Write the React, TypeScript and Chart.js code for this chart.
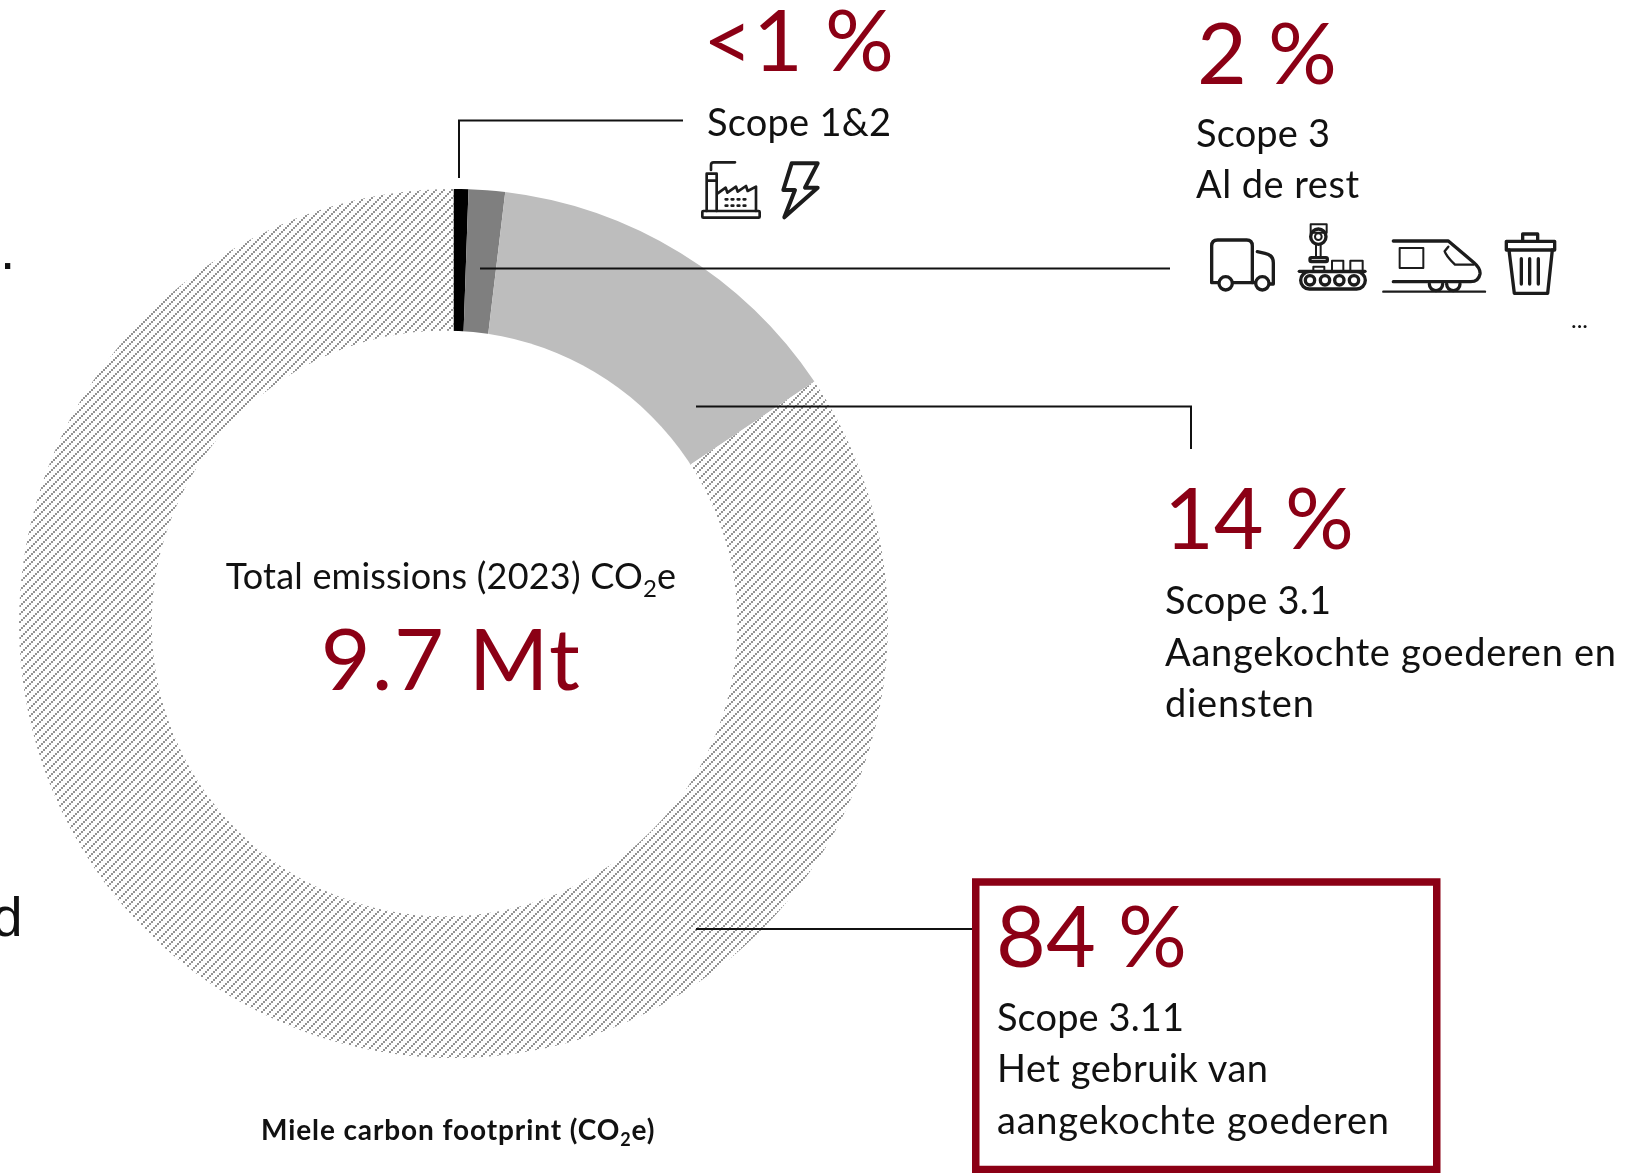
import React, { useEffect, useRef } from "react";
import { Chart, registerables } from "chart.js";

Chart.register(...registerables);

const categories = ["Scope 1&2", "Scope 3 Al de rest", "Scope 3.1", "Scope 3.11"];
const shareValues = [0.55, 1.35, 13.7, 84.4];
const sliceColors = ["#000000", "#7f7f7f", "#bdbdbd"];

const RED = "#8b0015";
const FONT = "Lato, Carlito, sans-serif";

// text, x, baseline, rendered width
const bigLabels: [string, number, number, number][] = [
  ["<1 %", 703, 71, 191],
  ["2 %", 1197, 84, 140],
  ["14 %", 1164, 549, 190],
  ["84 %", 996, 967, 191],
];
const smallLabels: [string, number, number, number][] = [
  ["Scope 1&2", 707, 136, 184],
  ["Scope 3", 1196, 147, 134],
  ["Al de rest", 1196, 198, 163],
  ["Scope 3.1", 1165, 614, 166],
  ["Aangekochte goederen en", 1165, 666, 451],
  ["diensten", 1165, 717, 149],
  ["Scope 3.11", 997, 1031, 187],
  ["Het gebruik van", 997, 1082, 271],
  ["aangekochte goederen", 997, 1134, 392],
];
const leaderLines = [
  "M459 178V120.5H683",
  "M480 268.5H1170",
  "M696 406.5H1191V449",
  "M696 929H972",
];

function hatchPattern(ctx: CanvasRenderingContext2D) {
  const c = document.createElement("canvas");
  c.width = 8;
  c.height = 8;
  const p = c.getContext("2d")!;
  p.fillStyle = "#ffffff";
  p.fillRect(0, 0, 8, 8);
  p.fillStyle = "#949494";
  for (let i = 0; i < 4; i++) {
    for (let j = 0; j < 4; j++) {
      if ((i + j) % 4 === 0) p.fillRect(i * 2, j * 2, 2, 2);
    }
  }
  return ctx.createPattern(c, "repeat")!;
}

// The reference's hole sits a little left of the ring's own centre.
const offsetHole = {
  id: "offsetHole",
  afterDatasetsDraw(chart: any) {
    const arc = chart.getDatasetMeta(0).data[0];
    const { x, y, outerRadius } = arc.getProps(["x", "y", "outerRadius"], true);
    const ctx = chart.ctx;
    ctx.save();
    ctx.fillStyle = "#ffffff";
    ctx.beginPath();
    ctx.arc(x - 0.0205 * outerRadius, y, 0.674 * outerRadius, 0, Math.PI * 2);
    ctx.fill();
    ctx.restore();
  },
};

function Icons() {
  const common = { fill: "none", stroke: "#1c1c1c", strokeLinejoin: "round" as const, strokeLinecap: "round" as const };
  return (
    <>
      <g transform="translate(680,140) scale(0.33333)" {...common} strokeWidth={8}>
        <rect x="67" y="213" width="172" height="20" rx="3" />
        <path d="M80 213V101H110V213M80 122H110" />
        <path d="M93 90V75Q93 67 101 67H165" />
        <path d="M113 160L137 143L142 158L168 140L173 155L198 138L203 153L228 140V213" />
        <path d="M137 178H142M155 178H160M173 178H178M191 178H196M137 197H142M155 197H160M173 197H178M191 197H196" />
        <path d="M335 70H413L375 143H413L313 232L345 150H310Z" strokeWidth={12} />
      </g>
      <g transform="translate(1190,210) scale(0.33333)" {...common} strokeWidth={10}>
        <path d="M85 218H65V108Q65 90 83 90H170Q187 90 187 108V218H129" />
        <path d="M187 218H195M202 125L225 130Q250 135 250 158V222H240" />
        <circle cx="107" cy="220" r="20" />
        <circle cx="217" cy="220" r="20" />
        <path d="M362 43H410V68H362Z" strokeWidth={6} />
        <circle cx="385" cy="80" r="23" />
        <circle cx="385" cy="80" r="10" strokeWidth={6} />
        <path d="M378 104V143M392 104V143" strokeWidth={6} />
        <rect x="360" y="143" width="52" height="12" rx="4" />
        <path d="M328 184H525" />
        <rect x="332" y="185" width="194" height="52" rx="26" />
        <circle cx="360" cy="211" r="14" />
        <circle cx="405" cy="211" r="14" />
        <circle cx="448" cy="211" r="14" />
        <circle cx="492" cy="211" r="14" />
        <path d="M370 183V170H403V183M426 183V152H460V183M481 183V152H518V183" strokeWidth={6} />
        <path d="M610 93H775L852 158Q872 175 870 192Q866 215 842 215H610" />
        <rect x="629" y="114" width="71" height="60" strokeWidth={6} />
        <path d="M775 110L764 124Q770 140 795 164H850" strokeWidth={7} />
        <path d="M718 222A20 20 0 0 0 758 222M770 222A20 20 0 0 0 810 222" />
        <path d="M580 245H885" strokeWidth={7} />
        <path d="M949 94H1094V120H949ZM998 92V72H1043V92" />
        <path d="M957 120L973 250H1073L1087 120" />
        <path d="M994 146V222M1019 146V222M1045 146V222" />
      </g>
    </>
  );
}

export default function App() {
  const ref = useRef<HTMLCanvasElement | null>(null);
  useEffect(() => {
    const canvas = ref.current!;
    const ctx = canvas.getContext("2d")!;
    const chart = new Chart(canvas, {
      type: "doughnut",
      data: {
        labels: categories,
        datasets: [
          {
            data: shareValues,
            backgroundColor: [...sliceColors, hatchPattern(ctx)],
            borderWidth: 0,
          },
        ],
      },
      options: {
        responsive: false,
        animation: false,
        cutout: "62%",
        rotation: 0,
        layout: { padding: 0 },
        plugins: { legend: { display: false }, tooltip: { enabled: false } },
      },
      plugins: [offsetHole],
    });
    return () => chart.destroy();
  }, []);

  return (
    <div style={{ position: "fixed", left: 0, top: 0, width: 1645, height: 1173, overflow: "hidden", background: "#fff" }}>
      <canvas ref={ref} width={869} height={869} style={{ position: "absolute", left: 19, top: 189, width: 869, height: 869 }} />
      <svg width={1645} height={1173} style={{ position: "absolute", left: 0, top: 0 }} fontFamily={FONT}>
        {leaderLines.map((d) => (
          <path key={d} d={d} fill="none" stroke="#111" strokeWidth={2} />
        ))}
        <rect x={975.75} y={882} width={461} height={287.5} fill="none" stroke={RED} strokeWidth={7.5} />
        <Icons />
        {bigLabels.map(([t, x, y, w]) => (
          <text key={t} x={x} y={y} fontSize={86} fill={RED} textLength={w} lengthAdjust="spacing">{t}</text>
        ))}
        {smallLabels.map(([t, x, y, w]) => (
          <text key={t} x={x} y={y} fontSize={38} fill="#111" textLength={w} lengthAdjust="spacing">{t}</text>
        ))}
        <text x={451} y={589} fontSize={36} fill="#111" textAnchor="middle" letterSpacing={0.2}>
          Total emissions (2023) CO<tspan fontSize={24} dy={8}>2</tspan><tspan dy={-8}>e</tspan>
        </text>
        <text x={451} y={690} fontSize={86} fill={RED} textAnchor="middle" letterSpacing={1.5}>9.7 Mt</text>
        <text x={261} y={1140} fontSize={28} fontWeight={700} fill="#111" letterSpacing={0.9}>
          Miele carbon footprint (CO<tspan fontSize={18} dy={6}>2</tspan><tspan dy={-6}>e)</tspan>
        </text>
        <text x={1571} y={328} fontSize={24} fill="#111">...</text>
        <text x={0} y={269} fontSize={55} fontFamily="Liberation Sans" fill="#111">.</text>
        <text x={-8} y={936} fontSize={55} fontFamily="Liberation Sans" fill="#111">d</text>
      </svg>
    </div>
  );
}
